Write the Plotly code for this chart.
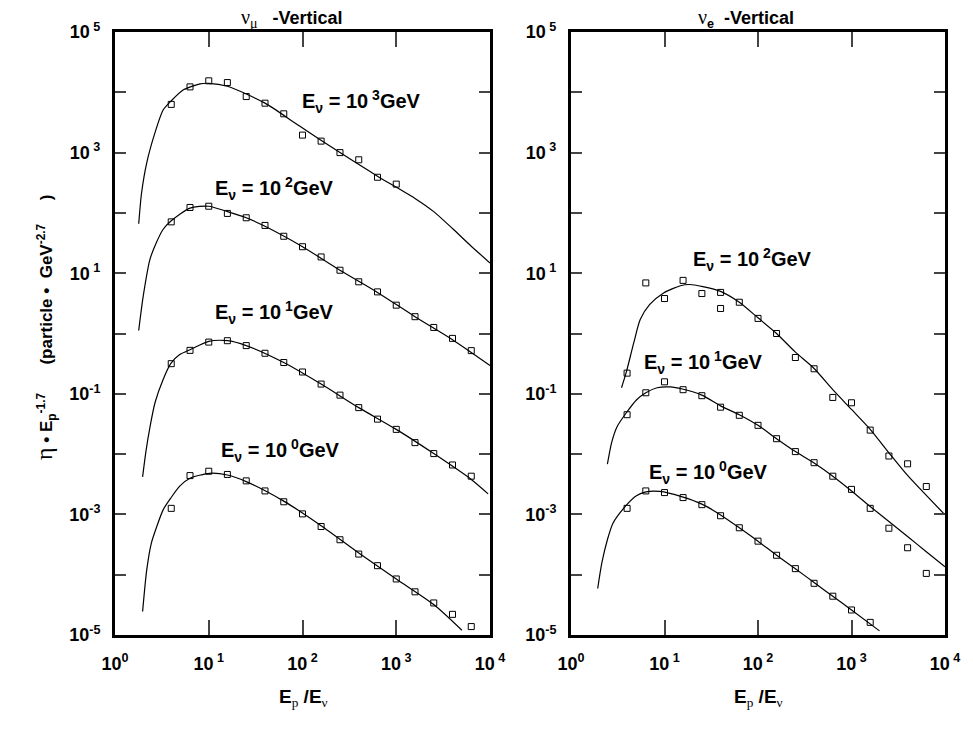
import plotly.graph_objects as go

# ---------------- data ----------------
# E_p/E_nu grid where the simulated points (open squares) sit
x_grid = [3.98, 6.31, 10.0, 15.8, 25.1, 39.8, 63.1, 100, 158, 251, 398, 631,
          1000, 1585, 2512, 3981, 6310]

# nu_mu vertical : points
mu_e3_y = [6.3e3, 1.23e4, 1.55e4, 1.45e4, 8.5e3, 6.6e3, 4.4e3, 1.95e3, 1.55e3,
           1.0e3, 7.6e2, 3.9e2, 3.0e2]
mu_e2_y = [71, 123, 129, 98, 83, 62, 41, 27.5, 18.6, 11.2, 7.2, 4.9, 2.95, 1.9,
           1.26, 0.83, 0.52]
mu_e1_y = [0.316, 0.525, 0.72, 0.76, 0.63, 0.47, 0.33, 0.23, 0.145, 0.095, 0.059,
           0.038, 0.0257, 0.0155, 0.0102, 0.0066, 0.0043]
mu_e0_y = [1.26e-3, 4.4e-3, 5.2e-3, 4.6e-3, 3.6e-3, 2.45e-3, 1.62e-3, 1.02e-3,
           6.3e-4, 3.8e-4, 2.2e-4, 1.41e-4, 8.5e-5, 5.2e-5, 3.4e-5, 2.2e-5, 1.38e-5]

# nu_mu vertical : fitted curves
mu_e3_cx = [1.79, 1.92, 2.18, 2.67, 3.27, 3.93, 5.37, 8.07, 10, 15.8, 39.8, 93,
            251, 631, 1585, 2512, 3981, 6310, 10000]
mu_e3_cy = [66, 214, 676, 2140, 5130, 7080, 1.10e4, 1.38e4, 1.41e4, 1.26e4, 6610,
            2750, 1000, 407, 174, 105, 55, 28, 14.8]
mu_e2_cx = [1.79, 2.0, 2.36, 2.75, 3.24, 3.98, 6.31, 10, 15.8, 25.1, 39.8, 100,
            251, 631, 1585, 3981, 10000]
mu_e2_cy = [1.12, 4.17, 17, 31.6, 52.5, 74, 120, 129, 105, 83, 60, 27.5, 11.2,
            4.8, 1.9, 0.79, 0.295]
mu_e1_cx = [1.97, 2.14, 2.36, 2.67, 3.27, 3.93, 4.9, 6.31, 10, 15.8, 25.1, 63.1,
            158, 398, 1000, 2512, 6310, 9550]
mu_e1_cy = [4.2e-3, 0.0112, 0.028, 0.071, 0.174, 0.316, 0.447, 0.537, 0.74, 0.76,
            0.63, 0.33, 0.145, 0.059, 0.0257, 0.0102, 3.8e-3, 2.19e-3]
mu_e0_cx = [1.97, 2.18, 2.45, 2.79, 3.27, 3.93, 4.9, 6.31, 10.2, 15.8, 25.1, 63.1,
            158, 398, 1000, 2512, 5010]
mu_e0_cy = [2.45e-5, 1.2e-4, 3.4e-4, 6.3e-4, 1.2e-3, 1.86e-3, 2.95e-3, 3.98e-3,
            4.8e-3, 4.5e-3, 3.5e-3, 1.66e-3, 6.5e-4, 2.3e-4, 8.5e-5, 3.2e-5, 1.2e-5]

# nu_e vertical : points
e_e2_x = [3.98, 6.31, 10.0, 15.8, 25.1, 39.8, 39.8, 63.1, 100, 158, 251, 398, 631,
          1000, 1585, 2512, 3981, 6310]
e_e2_y = [0.22, 6.9, 3.8, 7.6, 4.6, 4.8, 2.6, 3.3, 1.78, 1.0, 0.40, 0.26, 0.087,
          0.071, 0.025, 0.0093, 0.0069, 0.0029]
e_e1_y = [0.045, 0.104, 0.158, 0.117, 0.093, 0.060, 0.044, 0.030, 0.018, 0.011,
          0.0072, 0.0043, 0.0026, 1.26e-3, 5.9e-4, 2.8e-4, 1.05e-4]
e_e0_y = [1.26e-3, 2.45e-3, 2.3e-3, 1.9e-3, 1.45e-3, 9.5e-4, 6.0e-4, 3.6e-4,
          2.1e-4, 1.26e-4, 7.2e-5, 4.4e-5, 2.6e-5, 1.62e-5]

# nu_e vertical : fitted curves
e_e2_cx = [3.47, 3.89, 4.68, 5.5, 6.92, 9.77, 14.8, 18.6, 25.7, 39.8, 63.1, 100,
           158, 251, 398, 631, 1000, 1585, 2512, 3890, 9770]
e_e2_cy = [0.126, 0.224, 0.69, 1.7, 3.0, 4.7, 6.2, 6.5, 6.0, 5.0, 3.3, 1.82, 1.0,
           0.49, 0.263, 0.117, 0.055, 0.0257, 0.0105, 4.6e-3, 1.02e-3]
e_e1_cx = [2.45, 2.72, 3.09, 3.89, 5.01, 6.31, 8.32, 11.5, 15.5, 25.1, 39.8, 63.1,
           100, 158, 251, 398, 631, 1000, 1585, 2512, 3981, 6310, 10000]
e_e1_cy = [6.8e-3, 0.0155, 0.028, 0.048, 0.079, 0.104, 0.126, 0.130, 0.120, 0.095,
           0.063, 0.045, 0.030, 0.018, 0.011, 7.1e-3, 4.3e-3, 2.45e-3, 1.35e-3,
           7.6e-4, 4.3e-4, 2.4e-4, 1.35e-4]
e_e0_cx = [1.93, 2.14, 2.45, 2.82, 3.89, 5.01, 6.17, 8.91, 15.5, 25.1, 39.8, 63.1,
           100, 158, 251, 398, 631, 1000, 1995]
e_e0_cy = [5.9e-5, 1.58e-4, 3.8e-4, 7.2e-4, 1.41e-3, 2.04e-3, 2.34e-3, 2.4e-3,
           1.95e-3, 1.48e-3, 9.8e-4, 6.0e-4, 3.6e-4, 2.1e-4, 1.26e-4, 7.4e-5,
           4.4e-5, 2.6e-5, 1.17e-5]

x_tickvals = [1, 10, 100, 1000, 10000]
x_ticktext = ["10<sup>0</sup>", "10<sup> 1</sup>", "10<sup> 2</sup>",
              "10<sup> 3</sup>", "10<sup> 4</sup>"]
y_tickvals = [1e-5, 1e-4, 1e-3, 1e-2, 1e-1, 1, 10, 100, 1e3, 1e4, 1e5]
y_ticktext = ["10<sup>-5</sup>", "", "10<sup>-3</sup>", "", "10<sup>-1</sup>", "",
              "10<sup> 1</sup>", "", "10<sup> 3</sup>", "", "10<sup> 5</sup>"]

# ---------------- figure ----------------
# the page body keeps its default 8 px margin, so the figure is drawn 8 px in
OFF = 8
W, H = 973 - 2 * OFF, 729 - 2 * OFF
SANS = "Liberation Sans, Arial, sans-serif"
SERIF = "Liberation Serif, Times New Roman, serif"

def px(x):
    return (x - OFF) / W

def py(y):
    return 1 - (y - OFF) / H

fig = go.Figure()

line_style = dict(color="black", width=1.2, shape="spline", smoothing=0.7)
mark_style = dict(symbol="square-open", size=6, color="black", line=dict(width=1, color="black"))

left_curves = [(mu_e3_cx, mu_e3_cy), (mu_e2_cx, mu_e2_cy), (mu_e1_cx, mu_e1_cy), (mu_e0_cx, mu_e0_cy)]
left_pts = [mu_e3_y, mu_e2_y, mu_e1_y, mu_e0_y]
for (cx, cy) in left_curves:
    fig.add_trace(go.Scatter(x=cx, y=cy, mode="lines", line=line_style,
                             xaxis="x", yaxis="y", showlegend=False, hoverinfo="skip"))
for yv in left_pts:
    fig.add_trace(go.Scatter(x=x_grid[:len(yv)], y=yv, mode="markers", marker=mark_style,
                             xaxis="x", yaxis="y", showlegend=False))

right_curves = [(e_e2_cx, e_e2_cy), (e_e1_cx, e_e1_cy), (e_e0_cx, e_e0_cy)]
for (cx, cy) in right_curves:
    fig.add_trace(go.Scatter(x=cx, y=cy, mode="lines", line=line_style,
                             xaxis="x2", yaxis="y2", showlegend=False, hoverinfo="skip"))
fig.add_trace(go.Scatter(x=e_e2_x, y=e_e2_y, mode="markers", marker=mark_style,
                         xaxis="x2", yaxis="y2", showlegend=False))
for yv in [e_e1_y, e_e0_y]:
    fig.add_trace(go.Scatter(x=x_grid[:len(yv)], y=yv, mode="markers", marker=mark_style,
                             xaxis="x2", yaxis="y2", showlegend=False))

tickfont = dict(family=SANS, size=18, color="black", weight="bold")
xax = dict(type="log", range=[0, 4], showline=True, linewidth=3, linecolor="black",
           mirror="ticks", ticks="inside", ticklen=15, tickwidth=1.5, tickcolor="#444",
           tickvals=x_tickvals, ticktext=x_ticktext, tickfont=tickfont,
           showgrid=False, zeroline=False, ticklabelstandoff=10, automargin=False)
yax = dict(type="log", range=[-5, 5], showline=True, linewidth=3, linecolor="black",
           mirror="ticks", ticks="inside", ticklen=11, tickwidth=1.5, tickcolor="#444",
           tickvals=y_tickvals, ticktext=y_ticktext, tickfont=tickfont,
           showgrid=False, zeroline=False, ticklabelstandoff=8, automargin=False,
           domain=[py(635), py(32)])

fig.update_layout(
    width=W, height=H, autosize=False,
    margin=dict(l=0, r=0, t=0, b=0, pad=0, autoexpand=False),
    paper_bgcolor="white", plot_bgcolor="white",
    xaxis=dict(xax, domain=[px(115), px(490)], anchor="y"),
    yaxis=dict(yax, anchor="x"),
    xaxis2=dict(xax, domain=[px(571), px(945)], anchor="y2"),
    yaxis2=dict(yax, anchor="x2"),
)

ser = lambda s: f'<span style="font-family:{SERIF};font-weight:normal">{s}</span>'

annots = []
lab_font = dict(family=SANS, size=20, color="black", weight="bold")
series_labels = [
    (300, 102, "3"), (213, 188, "2"), (213, 312, "1"), (219, 450, "0"),
    (691, 259, "2"), (642, 362, "1"), (647, 472, "0"),
]
for (lx, ly, e) in series_labels:
    annots.append(dict(x=px(lx), y=py(ly), xref="paper", yref="paper", showarrow=False,
                       xanchor="left", yanchor="middle", font=lab_font,
                       text=f"E<sub>ν</sub> = 10<sup> {e}</sup>GeV"))

title_font = dict(family=SANS, size=18, color="black", weight="bold")
annots.append(dict(x=px(292), y=py(19), xref="paper", yref="paper", showarrow=False,
                   xanchor="center", yanchor="middle", font=title_font,
                   text=f'<span style="font-family:{SERIF};font-weight:normal;font-size:20px">ν<sub>μ</sub></span>   -Vertical'))
annots.append(dict(x=px(746), y=py(19), xref="paper", yref="paper", showarrow=False,
                   xanchor="center", yanchor="middle", font=title_font,
                   text=f'<span style="font-family:{SERIF};font-weight:normal;font-size:20px">ν</span><sub>e</sub>  -Vertical'))

axt_font = dict(family=SANS, size=19, color="black", weight="bold")
for cx in (303, 758):
    annots.append(dict(x=px(cx), y=py(698), xref="paper", yref="paper", showarrow=False,
                       xanchor="center", yanchor="middle", font=axt_font,
                       text=f'E<sub>{ser("p")}</sub> /E<sub>{ser("ν")}</sub>'))

annots.append(dict(x=px(45), y=py(328), xref="paper", yref="paper", showarrow=False,
                   xanchor="center", yanchor="middle", textangle=-90,
                   font=dict(family=SANS, size=17, color="black", weight="bold"),
                   text=f'<span style="font-family:{SERIF};font-weight:normal;font-size:24px">η</span> • E<sub>p</sub><sup>-1.7</sup>      (particle •  GeV<sup>-2.7</sup>     )'))

fig.update_layout(annotations=annots)
fig.write_html("out.html")
